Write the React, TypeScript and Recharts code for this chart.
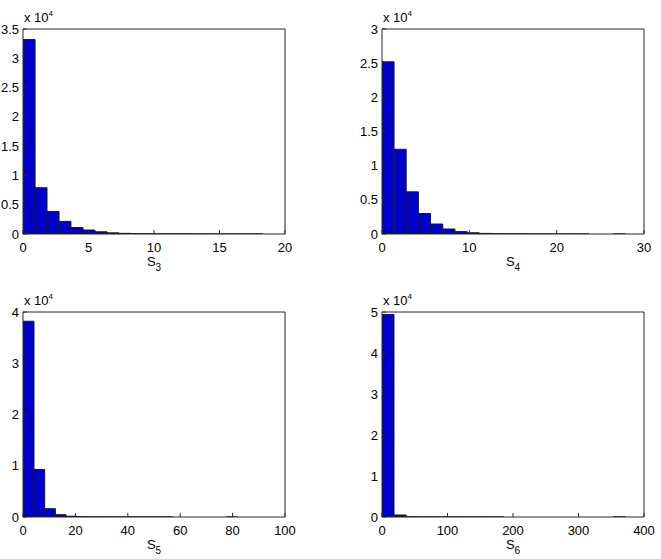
import React from 'react';
import { BarChart, Bar, XAxis, YAxis, Label } from 'recharts';

// histogram bin centres (x) and counts for each panel
const s3Centers = [0.46, 1.37, 2.29, 3.2, 4.12, 5.03, 5.95, 6.86, 7.78, 8.69, 9.61, 10.52, 11.44, 12.35, 13.27, 14.18, 15.1, 16.01, 16.93, 17.84];
const s3Counts = [33200, 7900, 3850, 2150, 1100, 680, 380, 200, 110, 60, 35, 20, 12, 8, 5, 3, 2, 1, 1, 1];
const s3XTicks = [0, 5, 10, 15, 20];
const s3YTicks = [0, 5000, 10000, 15000, 20000, 25000, 30000, 35000];

const s4Centers = [0.7, 2.09, 3.49, 4.88, 6.28, 7.67, 9.07, 10.46, 11.86, 13.25, 14.65, 16.04, 17.44, 18.83, 20.23, 21.62, 23.02, 24.41, 25.81, 27.2];
const s4Counts = [25200, 12400, 6170, 3000, 1460, 730, 350, 180, 90, 45, 22, 11, 6, 3, 2, 1, 1, 0, 0, 1];
const s4XTicks = [0, 10, 20, 30];
const s4YTicks = [0, 5000, 10000, 15000, 20000, 25000, 30000];

const s5Centers = [2.04, 6.12, 10.2, 14.28, 18.36, 22.44, 26.52, 30.6, 34.68, 38.76, 42.84, 46.92, 51.0, 55.08, 59.16, 63.24, 67.32, 71.4, 75.48, 79.56];
const s5Counts = [38200, 9270, 1620, 450, 150, 60, 25, 12, 6, 3, 2, 1, 1, 1, 0, 0, 0, 0, 0, 1];
const s5XTicks = [0, 20, 40, 60, 80, 100];
const s5YTicks = [0, 10000, 20000, 30000, 40000];

const s6Centers = [9.3, 27.9, 46.5, 65.1, 83.7, 102.3, 120.9, 139.5, 158.1, 176.7, 195.3, 213.9, 232.5, 251.1, 269.7, 288.3, 306.9, 325.5, 344.1, 362.7];
const s6Counts = [49400, 490, 80, 20, 8, 4, 2, 1, 1, 1, 0, 0, 0, 0, 0, 0, 0, 0, 0, 1];
const s6XTicks = [0, 100, 200, 300, 400];
const s6YTicks = [0, 10000, 20000, 30000, 40000, 50000];

const FONT = '"Liberation Sans", Arial, Helvetica, sans-serif';
const AXIS = '#262626';
const BAR_FILL = '#0000cc';
const BAR_EDGE = '#1a1a1a';
const PLOT_W = 262;
const PLOT_H = 205;
const YW = 40;
const MT = 29;
const XH = 42;
const MR = 15;

interface PanelProps {
  left: number;
  top: number;
  centers: number[];
  counts: number[];
  xTicks: number[];
  yTicks: number[];
  sub: string;
}

const tickStyle = { fill: '#000', fontSize: 13, fontFamily: FONT };

const Panel: React.FC<PanelProps> = ({ left, top, centers, counts, xTicks, yTicks, sub }) => {
  const data = centers.map((c, i) => ({ x: c, n: counts[i] }));
  const xDom = [xTicks[0], xTicks[xTicks.length - 1]];
  const yDom = [yTicks[0], yTicks[yTicks.length - 1]];

  // top / right axes take 1px each so they actually render (box with inner ticks)
  return (
    <div style={{ position: 'absolute', left: left - YW, top: top - MT }}>
      <BarChart
        width={YW + PLOT_W + MR}
        height={MT + PLOT_H + XH}
        data={data}
        margin={{ top: MT - 1, right: MR - 1, bottom: 0, left: 0 }}
        barCategoryGap={0}
        barGap={0}
      >
        <XAxis
          xAxisId="b"
          dataKey="x"
          type="number"
          domain={xDom}
          ticks={xTicks}
          interval={0}
          allowDataOverflow
          height={XH}
          stroke={AXIS}
          tickSize={-4}
          tickMargin={13}
          tick={tickStyle}
        >
          <Label
            content={(props: any) => {
              const vb = props.viewBox;
              return (
                <text x={vb.x + vb.width / 2} y={vb.y + 32} textAnchor="middle" fontFamily={FONT} fontSize={13} fill="#000">
                  S<tspan fontSize={10} dy={5}>{sub}</tspan>
                </text>
              );
            }}
          />
        </XAxis>
        <XAxis
          xAxisId="t"
          dataKey="x"
          type="number"
          orientation="top"
          domain={xDom}
          ticks={xTicks}
          interval={0}
          allowDataOverflow
          height={1}
          stroke={AXIS}
          tickSize={-4}
          tick={false}
        />
        <YAxis
          yAxisId="l"
          type="number"
          domain={yDom}
          ticks={yTicks}
          interval={0}
          allowDataOverflow
          width={YW}
          stroke={AXIS}
          tickSize={-4}
          tickMargin={8}
          tick={tickStyle}
          tickFormatter={(v: number) => String(v / 10000)}
        >
          <Label
            content={(props: any) => {
              const vb = props.viewBox;
              return (
                <text x={vb.x + vb.width + 1} y={vb.y - 7} fontFamily={FONT} fontSize={13} fill="#000">
                  x 10<tspan fontSize={8} dy={-6}>4</tspan>
                </text>
              );
            }}
          />
        </YAxis>
        <YAxis
          yAxisId="r"
          type="number"
          orientation="right"
          domain={yDom}
          ticks={yTicks}
          interval={0}
          allowDataOverflow
          width={1}
          stroke={AXIS}
          tickSize={-4}
          tick={false}
        />
        <Bar
          xAxisId="b"
          yAxisId="l"
          dataKey="n"
          fill={BAR_FILL}
          stroke={BAR_EDGE}
          strokeWidth={1}
          isAnimationActive={false}
        />
      </BarChart>
    </div>
  );
};

export default function App() {
  return (
    <div style={{ position: 'fixed', left: 0, top: 0, width: 661, height: 559, background: '#fff', overflow: 'hidden' }}>
      <Panel left={23} top={29} centers={s3Centers} counts={s3Counts} xTicks={s3XTicks} yTicks={s3YTicks} sub="3" />
      <Panel left={382} top={29} centers={s4Centers} counts={s4Counts} xTicks={s4XTicks} yTicks={s4YTicks} sub="4" />
      <Panel left={23} top={312} centers={s5Centers} counts={s5Counts} xTicks={s5XTicks} yTicks={s5YTicks} sub="5" />
      <Panel left={382} top={312} centers={s6Centers} counts={s6Counts} xTicks={s6XTicks} yTicks={s6YTicks} sub="6" />
    </div>
  );
}
